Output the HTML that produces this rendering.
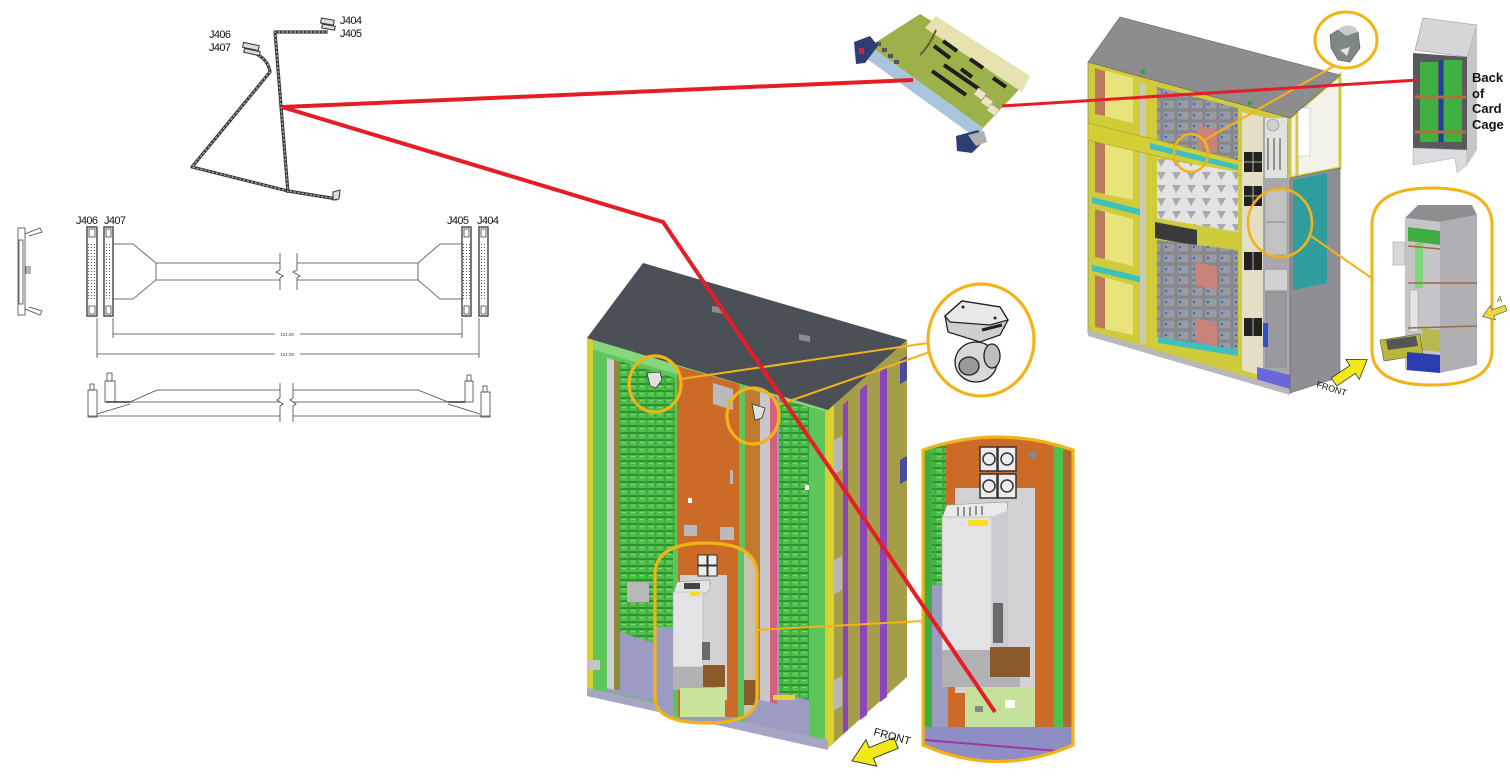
<!DOCTYPE html>
<html><head><meta charset="utf-8"><style>
html,body{margin:0;padding:0;background:#fff;}
svg{display:block;}
text{font-family:"Liberation Sans",sans-serif;}
</style></head><body>
<svg width="1510" height="776" viewBox="0 0 1510 776" xmlns="http://www.w3.org/2000/svg">
<defs>
<pattern id="cards" width="9" height="7" patternUnits="userSpaceOnUse">
<rect width="9" height="7" fill="#4fbe4b"/>
<rect y="5" width="9" height="2" fill="#2e922f"/>
<rect x="7" width="1.2" height="7" fill="#35a236"/>
<rect x="1" y="1" width="4" height="1" fill="#7ed67a"/>
</pattern>
<pattern id="mods" width="14" height="11" patternUnits="userSpaceOnUse">
<rect width="14" height="11" fill="#8c8c93"/>
<rect x="1" y="1" width="12" height="9" fill="#9a9aa1" stroke="#74747a" stroke-width="0.6"/>
<circle cx="4" cy="5" r="1.3" fill="#2f6fd6"/>
</pattern>
<pattern id="tri" width="15" height="13" patternUnits="userSpaceOnUse">
<rect width="15" height="13" fill="#e3e3e6"/>
<path d="M2,3 L11,3 L6,11 Z" fill="#a9a9ae"/>
</pattern>
<pattern id="pins" width="3" height="3" patternUnits="userSpaceOnUse">
<rect width="3" height="3" fill="#fff"/>
<rect x="1" y="1" width="1" height="1" fill="#555"/>
</pattern>
<clipPath id="stadC"><path d="M923,450 Q998,424 1073,450 L1073,745 Q998,778 923,745 Z"/></clipPath>
<clipPath id="stadL"><path d="M655,575 Q655,543 706,543 Q757,543 757,575 L757,697 Q757,723 706,723 Q655,723 655,697 Z"/></clipPath>
<clipPath id="stadR"><path d="M1372,225 Q1372,188 1432,188 Q1492,188 1492,225 L1492,350 Q1492,385 1432,385 Q1372,385 1372,350 Z"/></clipPath>
</defs>

<!-- ============ TOP CABLE SKETCH ============ -->
<g fill="none" stroke-linejoin="round">
<path d="M252,52 Q268,58 270,72 L192,167 L288,191 L337,199" stroke="#3a3a3a" stroke-width="3.2"/>
<path d="M252,52 Q268,58 270,72 L192,167 L288,191 L337,199" stroke="#bdbdbd" stroke-width="1.2" stroke-dasharray="2,2"/>
<path d="M328,32 L275,32 L288,193" stroke="#3a3a3a" stroke-width="3.2"/>
<path d="M328,32 L275,32 L288,193" stroke="#bdbdbd" stroke-width="1.2" stroke-dasharray="2,2"/>
</g>
<g fill="#ddd" stroke="#333" stroke-width="1">
<rect x="243" y="44" width="16" height="5" transform="rotate(12 251 46)"/>
<rect x="244" y="50" width="16" height="4" transform="rotate(12 252 52)"/>
<rect x="321" y="19" width="13" height="5" transform="rotate(10 327 21)"/>
<rect x="322" y="25" width="13" height="4" transform="rotate(10 328 27)"/>
<path d="M333,192 L340,190 L339,199 L333,200 Z"/>
</g>
<g font-size="11" fill="#111" letter-spacing="-0.6">
<text x="209" y="38">J406</text>
<text x="209" y="51">J407</text>
<text x="340" y="24">J404</text>
<text x="340" y="37">J405</text>
</g>

<!-- ============ CABLE DRAWING ============ -->
<rect x="88" y="244" width="8" height="56" fill="url(#pins)"/>
<rect x="105" y="244" width="7" height="56" fill="url(#pins)"/>
<rect x="463" y="244" width="7" height="56" fill="url(#pins)"/>
<rect x="480" y="244" width="7" height="56" fill="url(#pins)"/>
<g fill="none" stroke="#333" stroke-width="1.3">
<rect x="87" y="227" width="10" height="89"/>
<rect x="104" y="227" width="9" height="89"/>
<rect x="462" y="227" width="9" height="89"/>
<rect x="479" y="227" width="9" height="89"/>
</g>
<g fill="none" stroke="#444" stroke-width="0.8">
<!-- side bracket -->
<rect x="18" y="228" width="7" height="87"/>
<rect x="19" y="240" width="4" height="64"/>
<path d="M25,234 L40,228 L42,232 L29,236 M25,309 L40,315 L42,311 L29,307"/>
<path d="M26,266 L26,274 M28,266 L28,274 M30,266 L30,274"/>
<rect x="89" y="229" width="6" height="8"/><rect x="89" y="306" width="6" height="8"/>
<rect x="106" y="229" width="5" height="8"/><rect x="106" y="306" width="5" height="8"/>
<rect x="464" y="229" width="5" height="8"/><rect x="464" y="306" width="5" height="8"/>
<rect x="481" y="229" width="5" height="8"/><rect x="481" y="306" width="5" height="8"/>
<!-- cable -->
<path d="M113,244 L133,244 L156,263 L280,263 M156,263 L156,280 L280,280 M156,280 L133,299 L113,299"/>
<path d="M297,263 L418,263 L440,244 L462,244 M418,263 L418,280 L297,280 M418,280 L440,299 L462,299"/>
<path d="M280,253 L280,270 L276,272 L283,276 L280,278 L280,290 M297,253 L297,270 L293,272 L300,276 L297,278 L297,290"/>
<!-- dims -->
<path d="M113,318 L113,338 M462,318 L462,338 M97,318 L97,358 M479,318 L479,358"/>
<path d="M113,334 L275,334 M300,334 L462,334 M97,354 L275,354 M300,354 L479,354"/>
<!-- bottom side view -->
<path d="M130,402 L157,390 L280,390 M293,390 L418,390 L448,402"/>
<path d="M105,402 L280,402 M293,402 L465,402"/>
<path d="M88,416 L280,416 M293,416 L490,416"/>
<path d="M97,414 L130,404 M448,404 L480,414"/>
<rect x="88" y="390" width="9" height="27"/><rect x="90" y="384" width="4" height="6"/>
<rect x="105" y="381" width="10" height="21"/><rect x="107" y="373" width="5" height="8"/>
<rect x="465" y="381" width="8" height="21"/><rect x="467" y="375" width="4" height="6"/>
<rect x="481" y="392" width="9" height="25"/><rect x="483" y="386" width="4" height="6"/>
<path d="M280,383 L280,398 L277,400 L283,404 L280,406 L280,422 M293,383 L293,398 L290,400 L296,404 L293,406 L293,422"/>
</g>
<path d="M106,402 L130,402" stroke="#333" stroke-width="1.6"/>
<path d="M448,402 L465,402" stroke="#333" stroke-width="1.6"/>
<g font-size="11" fill="#111" letter-spacing="-0.6">
<text x="76" y="224">J406</text>
<text x="104" y="224">J407</text>
<text x="447" y="224">J405</text>
<text x="477" y="224">J404</text>
</g>
<g font-size="4.5" fill="#444" text-anchor="middle">
<text x="287" y="336">101.00</text>
<text x="287" y="356">101.00</text>
</g>

<!-- ============ CENTER CABINET ============ -->
<polygon points="587,338 828,408 828,745 587,690" fill="#5ec55a"/>
<polygon points="587,338 828,408 828,418 587,348" fill="#86d67e"/>
<polygon points="587,338 593,340 593,691 587,690" fill="#d6cf30"/>
<!-- left bay -->
<polygon points="607,358 675,378 675,705 607,692" fill="#9c9cc2"/>
<polygon points="620,361 675,378 675,650 620,632" fill="url(#cards)"/>
<polygon points="607,358 614,360 614,690 607,688" fill="#cfcfd3"/>
<polygon points="614,360 620,362 620,690 614,689" fill="#8c8a3a"/>
<rect x="627" y="582" width="22" height="20" fill="#b8b8b8"/>
<!-- orange panel -->
<polygon points="677,366 739,384 739,725 677,712" fill="#cc6a28"/>
<polygon points="713,383 733,389 733,410 713,404" fill="#b9b9be"/>
<rect x="684" y="525" width="13" height="11" fill="#b9b9be"/>
<rect x="720" y="527" width="14" height="13" fill="#b9b9be"/>
<rect x="688" y="498" width="4" height="5" fill="#fff"/>
<rect x="730" y="470" width="3" height="14" fill="#b9b9be"/>
<!-- right bay -->
<polygon points="745,388 809,407 809,740 745,726" fill="#9c9cc2"/>
<polygon points="745,388 760,392 760,700 745,697" fill="#c07a30"/>
<polygon points="760,392 770,395 770,702 760,700" fill="#c8c8cc"/>
<polygon points="770,395 777,397 777,704 770,702" fill="#d4607a"/>
<polygon points="779,398 809,407 809,700 779,693" fill="url(#cards)"/>
<rect x="773" y="695" width="22" height="5" fill="#e8d030"/>
<rect x="805" y="485" width="5" height="5" fill="#fff"/>
<!-- green frame columns -->
<polygon points="739,384 745,386 745,727 739,725" fill="#5ec55a"/>
<polygon points="809,407 825,411 825,744 809,741" fill="#5ec55a"/>
<polygon points="825,411 830,412 830,745 825,744" fill="#d6cf30"/>
<!-- bottom edge -->
<polygon points="587,688 828,740 828,750 587,696" fill="#a5a5c6"/>
<rect x="587" y="660" width="13" height="10" fill="#c4c4c4"/>
<!-- right face -->
<polygon points="828,410 907,340 907,677 828,748" fill="#a59d48"/>
<polygon points="828,410 834,405 834,742 828,748" fill="#d9d22e"/>
<polygon points="843,405 848,400 848,730 843,734" fill="#8b45bf"/>
<polygon points="860,390 867,384 867,715 860,720" fill="#8b45bf"/>
<polygon points="880,372 887,366 887,697 880,702" fill="#8b45bf"/>
<polygon points="834,440 842,436 842,470 834,474" fill="#b8b8b8"/>
<polygon points="834,560 842,556 842,590 834,594" fill="#b8b8b8"/>
<polygon points="834,680 842,676 842,706 834,710" fill="#b8b8b8"/>
<polygon points="900,360 907,356 907,380 900,384" fill="#4a4aa0"/>
<polygon points="900,460 907,456 907,480 900,484" fill="#4a4aa0"/>
<!-- top -->
<polygon points="587,338 643,263 907,340 828,410" fill="#4b4f56"/>
<polygon points="712,306 724,308 724,314 712,312" fill="#8a8d92"/>
<polygon points="799,334 810,336 810,342 799,340" fill="#8a8d92"/>

<!-- small circles on cabinet -->
<g fill="none" stroke="#f2b316" stroke-width="3.2">
<ellipse cx="655" cy="384" rx="26" ry="28"/>
<ellipse cx="753" cy="416" rx="26" ry="28"/>
</g>
<g stroke="#333" stroke-width="0.8">
<path d="M647,373 L660,372 L662,380 L656,388 L650,386 Z" fill="#e0e0e0"/>
<path d="M752,404 L765,408 L762,418 L755,420 Z" fill="#e0e0e0"/>
</g>

<!-- right zoom stadium (center) -->
<g clip-path="url(#stadC)">
<rect x="920" y="420" width="160" height="360" fill="#cc6a28"/>
<rect x="922" y="420" width="10" height="360" fill="#3fae3f"/>
<rect x="932" y="420" width="14" height="165" fill="url(#cards)"/>
<rect x="932" y="585" width="16" height="160" fill="#9c9cc2"/>
<rect x="1053" y="420" width="10" height="360" fill="#4fbf4b"/>
<rect x="1063" y="420" width="12" height="360" fill="#b06a30"/>
<rect x="955" y="488" width="80" height="205" fill="#d2d2d4"/>
<g fill="#ececec" stroke="#333" stroke-width="1.5">
<rect x="980" y="447" width="17" height="24"/><rect x="998" y="447" width="18" height="24"/>
<rect x="980" y="474" width="17" height="24"/><rect x="998" y="474" width="18" height="24"/>
<circle cx="989" cy="459" r="6"/><circle cx="1007" cy="459" r="6"/>
<circle cx="989" cy="486" r="6"/><circle cx="1007" cy="486" r="6"/>
</g>
<circle cx="1033" cy="455" r="4" fill="#888"/>
<polygon points="947,505 1007,502 1008,512 992,520 942,518" fill="#eaeaea" stroke="#999" stroke-width="0.6"/>
<path d="M958,507 L958,516 M964,507 L964,516 M970,507 L970,516 M976,506 L976,515 M982,506 L982,515" stroke="#555" stroke-width="1.2"/>
<rect x="942" y="517" width="50" height="140" fill="#e3e3e6" stroke="#aaa" stroke-width="0.6"/>
<polygon points="992,517 1008,510 1008,652 992,657" fill="#cbcbcf"/>
<rect x="968" y="520" width="20" height="6" fill="#f5e020"/>
<rect x="993" y="603" width="10" height="40" fill="#6a6a6a"/>
<rect x="942" y="650" width="78" height="37" fill="#b2b2b4"/>
<rect x="990" y="647" width="40" height="30" fill="#8a5a28"/>
<rect x="965" y="688" width="70" height="50" fill="#c4e09a"/>
<rect x="975" y="706" width="8" height="6" fill="#888"/><rect x="1005" y="700" width="10" height="8" fill="#fff"/>
<rect x="920" y="727" width="155" height="40" fill="#8e8ec4"/>
<path d="M925,740 L1070,752" stroke="#9a3aa0" stroke-width="2"/>
</g>
<path d="M923,450 Q998,424 1073,450 L1073,745 Q998,778 923,745 Z" fill="none" stroke="#f2b316" stroke-width="3.2"/>

<!-- bottom stadium (center) -->
<g clip-path="url(#stadL)">
<rect x="650" y="540" width="110" height="190" fill="#cc6a28"/>
<rect x="655" y="540" width="18" height="90" fill="url(#cards)"/>
<rect x="655" y="627" width="18" height="100" fill="#9c9cc2"/>
<rect x="673" y="540" width="5" height="190" fill="#5ec55a"/>
<rect x="738" y="540" width="6" height="190" fill="#5ec55a"/>
<rect x="744" y="540" width="15" height="190" fill="#c9c3b0"/>
<rect x="744" y="680" width="15" height="25" fill="#8a5a28"/>
<rect x="680" y="575" width="47" height="125" fill="#d2d2d4"/>
<g fill="#ececec" stroke="#333" stroke-width="1">
<rect x="698" y="555" width="9" height="10"/><rect x="708" y="555" width="9" height="10"/>
<rect x="698" y="566" width="9" height="10"/><rect x="708" y="566" width="9" height="10"/>
</g>
<polygon points="677,582 710,580 710,590 700,596 673,595" fill="#e4e4e4" stroke="#888" stroke-width="0.5"/>
<rect x="684" y="583" width="16" height="6" fill="#444"/>
<rect x="673" y="592" width="30" height="75" fill="#e3e3e6" stroke="#aaa" stroke-width="0.5"/>
<rect x="690" y="592" width="10" height="4" fill="#f5e020"/>
<rect x="702" y="642" width="8" height="18" fill="#6a6a6a"/>
<rect x="673" y="667" width="44" height="23" fill="#b2b2b4"/>
<rect x="703" y="665" width="22" height="22" fill="#8a5a28"/>
<rect x="680" y="688" width="45" height="30" fill="#c9e59c"/>
<rect x="650" y="717" width="110" height="15" fill="#9c9cc2"/>
</g>
<path d="M655,575 Q655,543 706,543 Q757,543 757,575 L757,697 Q757,723 706,723 Q655,723 655,697 Z" fill="none" stroke="#f2b316" stroke-width="3.2"/>

<!-- top circle with caster -->
<ellipse cx="981" cy="340" rx="53" ry="56" fill="#fff" stroke="#f2b316" stroke-width="3.2"/>
<g stroke="#222" stroke-width="1.3">
<ellipse cx="976" cy="362" rx="21" ry="20" fill="#d8d8d8"/>
<ellipse cx="969" cy="366" rx="10" ry="9" fill="#9a9a9a"/>
<ellipse cx="992" cy="356" rx="8" ry="12" fill="#bdbdbd"/>
<polygon points="945,316 962,301 1000,307 1008,320 1000,335 980,342 948,332" fill="#cfcfcf"/>
<polygon points="945,316 962,301 1000,307 1008,320 990,325 950,322" fill="#e8e8e8"/>
<path d="M982,330 L1002,325" stroke-width="3"/>
</g>
<circle cx="963" cy="307" r="1.5" fill="#222"/><circle cx="995" cy="318" r="1.5" fill="#222"/>

<!-- yellow connectors center -->
<g stroke="#f2b316" stroke-width="2" fill="none">
<path d="M681,379 L928,343"/>
<path d="M778,405 L930,352"/>
<path d="M757,630 L923,621"/>
</g>

<!-- FRONT arrow center -->
<g transform="translate(896,743) rotate(158) scale(0.95)">
<path d="M0,-6 L28,-6 L28,-15 L50,0 L28,15 L28,6 L0,6 Z" fill="#f0ea1a" stroke="#333" stroke-width="1"/>
</g>
<text x="0" y="0" font-size="11" fill="#111" transform="translate(873,735) rotate(15)">FRONT</text>

<!-- ============ CARD ============ -->
<polygon points="920,14 1028,80 983,128 870,46" fill="#9cb14a"/>
<polygon points="936,16 1030,76 1022,92 925,28" fill="#e8e2b0"/>
<polygon points="870,46 983,128 979,140 863,56" fill="#a9c4dd"/>
<g stroke="#1e1e1e" stroke-width="4" stroke-linecap="butt">
<path d="M932,71 L966,95"/>
<path d="M944,65 L979,89"/>
<path d="M934,46 L950,58"/>
<path d="M943,41 L957,51"/>
<path d="M961,69 L972,77"/>
<path d="M970,59 L983,68"/>
<path d="M993,78 L1006,87"/>
</g>
<path d="M936,30 Q930,45 920,55" stroke="#6a5a30" stroke-width="2" fill="none"/>
<g fill="#ece6c0" stroke="#998" stroke-width="0.5">
<rect x="975" y="90" width="10" height="8" transform="rotate(35 980 94)"/>
<rect x="982" y="98" width="10" height="8" transform="rotate(35 987 102)"/>
<rect x="988" y="106" width="10" height="8" transform="rotate(35 993 110)"/>
</g>
<g fill="#555"><rect x="876" y="42" width="5" height="4"/><rect x="882" y="48" width="5" height="4"/><rect x="888" y="54" width="5" height="4"/><rect x="894" y="60" width="5" height="4"/></g>
<polygon points="854,42 870,36 878,46 865,63 856,64" fill="#2c3f70"/>
<rect x="859" y="48" width="5" height="6" fill="#d02040"/>
<polygon points="956,136 978,130 985,140 972,153 957,151" fill="#2c3f70"/>
<polygon points="968,135 984,131 987,142 976,146" fill="#b0b0b0"/>

<!-- ============ RIGHT CABINET ============ -->
<polygon points="1088,62 1290,118 1290,393 1088,333" fill="#cfcb3a" stroke="#8a8a60" stroke-width="0.8"/>
<g>
<polygon points="1095,68 1133,78 1133,123 1095,114" fill="#e6e47a"/>
<polygon points="1095,140 1133,150 1133,200 1095,192" fill="#e6e47a"/>
<polygon points="1095,209 1133,219 1133,266 1095,257" fill="#e6e47a"/>
<polygon points="1095,275 1133,285 1133,335 1095,327" fill="#e6e47a"/>
<polygon points="1095,68 1105,71 1105,116 1095,114" fill="#b97b5c"/>
<polygon points="1095,140 1105,143 1105,194 1095,192" fill="#b97b5c"/>
<polygon points="1095,209 1105,212 1105,259 1095,257" fill="#b97b5c"/>
<polygon points="1095,275 1105,278 1105,329 1095,327" fill="#b97b5c"/>
<polygon points="1092,197 1143,210 1143,216 1092,203" fill="#3cc0c0"/>
<polygon points="1092,265 1143,277 1143,283 1092,271" fill="#3cc0c0"/>
</g>
<polygon points="1140,82 1146,84 1146,345 1140,343" fill="#c9c9b8"/>
<polygon points="1157,87 1238,108 1238,160 1157,147" fill="url(#mods)"/>
<polygon points="1197,125 1217,130 1217,153 1197,148" fill="#c9837a"/>
<polygon points="1088,123 1290,173 1290,187 1088,140" fill="#d2ce34" stroke="#a8a428" stroke-width="0.6"/>
<polygon points="1150,143 1238,165 1238,170 1150,149" fill="#3cc0c0"/>
<polygon points="1157,158 1238,172 1238,232 1157,218" fill="url(#tri)"/>
<polygon points="1155,222 1197,230 1197,246 1155,238" fill="#3a3a3c"/>
<polygon points="1157,240 1238,250 1238,350 1157,338" fill="url(#mods)"/>
<polygon points="1195,262 1217,267 1217,290 1195,285" fill="#c9837a"/>
<polygon points="1195,318 1217,323 1217,346 1195,341" fill="#c9837a"/>
<polygon points="1158,337 1238,350 1238,356 1158,343" fill="#3cc0c0"/>
<polygon points="1242,112 1263,117 1263,376 1242,370" fill="#e4dec6"/>
<g fill="#222">
<rect x="1244" y="152" width="18" height="20"/><rect x="1244" y="186" width="18" height="20"/>
<rect x="1244" y="252" width="18" height="18"/><rect x="1244" y="318" width="18" height="18"/>
</g>
<g stroke="#ddd" stroke-width="0.8"><path d="M1253,152 L1253,172 M1244,162 L1262,162 M1253,186 L1253,206 M1244,196 L1262,196 M1253,252 L1253,270 M1253,318 L1253,336"/></g>
<polygon points="1263,117 1290,124 1290,393 1263,386" fill="#a8a8ac"/>
<rect x="1265" y="118" width="22" height="60" fill="#e2e2dc"/>
<circle cx="1273" cy="125" r="6" fill="#d0d0d0" stroke="#888" stroke-width="0.6"/>
<g stroke="#777" stroke-width="1.5"><path d="M1268,138 L1268,170 M1274,138 L1274,170 M1280,138 L1280,170"/></g>
<rect x="1265" y="190" width="22" height="65" fill="#c2c2c2" stroke="#888" stroke-width="0.5"/>
<path d="M1266,222 L1286,222" stroke="#888"/>
<rect x="1265" y="270" width="22" height="20" fill="#d0d0d0"/>
<rect x="1266" y="292" width="20" height="75" fill="#9a9a9e" stroke="#777" stroke-width="0.5"/>
<rect x="1263" y="323" width="5" height="24" fill="#3050d0"/>
<polygon points="1257,367 1290,375 1290,393 1257,385" fill="#6a68d8"/>
<polygon points="1088,330 1290,389 1290,395 1088,336" fill="#b8b8b8"/>
<polygon points="1290,118 1340,75 1340,168 1290,178" fill="#f2f2ea"/>
<g stroke="#cfcb3a" stroke-width="3" fill="none"><path d="M1290,118 L1340,75 L1340,168 L1290,178 Z M1297,112 L1297,176"/></g>
<rect x="1298" y="108" width="12" height="48" fill="#fff" stroke="#bbb" stroke-width="0.6"/>
<polygon points="1290,178 1340,168 1340,377 1290,393" fill="#8e8e93" stroke="#666" stroke-width="0.6"/>
<polygon points="1293,180 1327,173 1327,283 1293,290" fill="#2f9d9d"/>
<polygon points="1088,62 1120,17 1340,75 1290,118" fill="#8d8d90" stroke="#666" stroke-width="0.6"/>
<circle cx="1143" cy="72" r="2.5" fill="#3aa040"/><circle cx="1250" cy="103" r="2.5" fill="#3aa040"/>

<g fill="none" stroke="#f2b316" stroke-width="2.6">
<ellipse cx="1191" cy="153" rx="17" ry="19"/>
<ellipse cx="1280" cy="223" rx="32" ry="34"/>
</g>
<g stroke="#f2b316" stroke-width="2" fill="none">
<path d="M1203,141 L1334,66"/>
<path d="M1311,236 L1373,279"/>
</g>
<ellipse cx="1346" cy="40" rx="31" ry="28" fill="#fff" stroke="#f2b316" stroke-width="3"/>
<polygon points="1330,35 1338,30 1346,36 1358,32 1360,48 1350,62 1338,60 1331,48" fill="#7e8686" stroke="#555" stroke-width="0.6"/>
<path d="M1338,30 Q1345,22 1356,28 L1358,32 L1346,36 Z" fill="#c4cccc"/>
<polygon points="1340,50 1350,47 1347,56" fill="#dfe5e5"/>

<g clip-path="url(#stadR)">
<rect x="1370" y="185" width="125" height="205" fill="#fff"/>
<polygon points="1405,218 1418,205 1472,205 1477,215 1440,222" fill="#8e8e90"/>
<polygon points="1440,222 1477,215 1477,365 1440,373" fill="#b0b0b4"/>
<polygon points="1405,218 1440,222 1440,373 1405,370" fill="#c5c5c9"/>
<polygon points="1408,227 1440,231 1440,245 1408,241" fill="#3fae3f"/>
<rect x="1415" y="243" width="8" height="45" fill="#7ed67a"/>
<rect x="1410" y="290" width="8" height="42" fill="#e4e4e4" stroke="#999" stroke-width="0.5"/>
<rect x="1393" y="242" width="12" height="23" fill="#d8d8d8" stroke="#999" stroke-width="0.5"/>
<path d="M1408,246 L1440,249 M1408,283 L1477,283 M1408,328 L1477,326" stroke="#a06a40" stroke-width="1.4"/>
<polygon points="1422,328 1440,330 1440,352 1422,350" fill="#b8b850"/>
<polygon points="1380,340 1420,334 1423,355 1384,361" fill="#b8b838" stroke="#555" stroke-width="0.6"/>
<polygon points="1386,340 1416,336 1418,346 1388,350" fill="#555"/>
<polygon points="1407,352 1440,355 1440,373 1407,370" fill="#2a3cb0"/>
</g>
<path d="M1372,225 Q1372,188 1432,188 Q1492,188 1492,225 L1492,350 Q1492,385 1432,385 Q1372,385 1372,350 Z" fill="none" stroke="#f2b316" stroke-width="3"/>
<g transform="translate(1506,308) rotate(160) scale(0.5)">
<path d="M0,-6 L28,-6 L28,-15 L50,0 L28,15 L28,6 L0,6 Z" fill="#f0d83a" stroke="#666" stroke-width="1.5"/>
</g>
<text x="1497" y="302" font-size="8" fill="#806010">A</text>

<polygon points="1415,50 1423,18 1477,25 1467,57" fill="#d6d6d8" stroke="#999" stroke-width="0.6"/>
<polygon points="1467,57 1477,25 1477,150 1467,165" fill="#c6c6c8"/>
<polygon points="1413,53 1467,57 1467,150 1413,148" fill="#5a5a5e"/>
<rect x="1420" y="62" width="18" height="80" fill="#40b040"/>
<rect x="1444" y="60" width="18" height="82" fill="#40b040"/>
<rect x="1439" y="60" width="4" height="82" fill="#2040a0"/>
<path d="M1415,97 L1466,97 M1415,132 L1466,132" stroke="#b07040" stroke-width="3"/>
<polygon points="1413,148 1467,150 1467,165 1457,173 1455,158 1413,165" fill="#dcdcde" stroke="#aaa" stroke-width="0.5"/>
<g font-size="13" font-weight="bold" fill="#111">
<text x="1472" y="82">Back</text>
<text x="1472" y="98">of</text>
<text x="1472" y="113">Card</text>
<text x="1472" y="129">Cage</text>
</g>

<g transform="translate(1334,382) rotate(-34) scale(0.8)">
<path d="M0,-6 L28,-6 L28,-15 L50,0 L28,15 L28,6 L0,6 Z" fill="#f0ea1a" stroke="#333" stroke-width="1"/>
</g>
<text x="0" y="0" font-size="9" fill="#111" transform="translate(1316,387) rotate(17)">FRONT</text>

<!-- ============ RED LINES ============ -->
<g stroke="#e41e26" fill="none" stroke-linejoin="miter">
<path d="M282,107 L913,80" stroke-width="4"/>
<path d="M282,107 L663,222 L995,712" stroke-width="4"/>
<path d="M1002,106 L1418,80" stroke-width="3"/>
</g>
</svg>
</body></html>
